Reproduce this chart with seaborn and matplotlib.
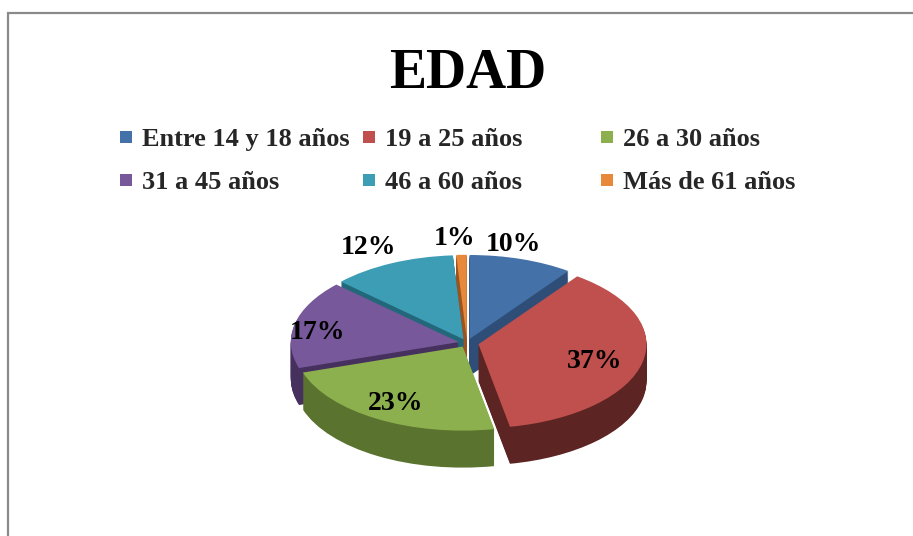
import matplotlib.pyplot as plt
import seaborn as sns
from matplotlib.lines import Line2D
from matplotlib.patches import Rectangle
import numpy as np

sns.set_theme(style="white")
plt.rcParams['font.family'] = ['Liberation Serif', 'DejaVu Serif']

# data (clockwise from 12 o'clock)
categories = ["Entre 14 y 18 años", "19 a 25 años", "26 a 30 años",
              "31 a 45 años", "46 a 60 años", "Más de 61 años"]
values = [10, 37, 23, 17, 12, 1]
pct_labels = ["10%", "37%", "23%", "17%", "12%", "1%"]

top_colors = ["#4472A8", "#C0504D", "#8DB04E", "#77589A", "#3C9DB5", "#E8883A"]
side_colors = ["#2E4E78", "#5C2422", "#5A7430", "#45305E", "#23677A", "#9A5420"]
explode = [0.05, 0.07, 0.05, 0.05, 0.05, 0.05]
# label placement: radius and where along the wedge (0 = theta1, 1 = theta2)
label_r = [1.16, 0.72, 0.78, 0.85, 1.23, 1.2]
label_frac = [0.64, 0.47, 0.5, 0.58, 0.55, 1.0]

W, H = 913, 536
fig = plt.figure(figsize=(W / 100, H / 100), dpi=100)

# outer chart frame
fig.patches.append(Rectangle((8 / W, -0.1), 1.2, (H - 13) / H + 0.1,
                             transform=fig.transFigure, fill=False,
                             edgecolor="#8a8a8a", linewidth=1.6))

fig.text(468 / W, 1 - 88 / H, "EDAD", ha="center", va="baseline",
         fontsize=40, fontweight="bold", color="black")

# pie axes: 1 x-unit = 168 px, 1 y-unit = 84 px (tilted look)
cx, cy = 467, 343
rx, ry = 168, 84
ax = fig.add_axes([0, 0, 1, 1])

depth = 37 / ry
n_layers = 40
for k in range(n_layers, 0, -1):
    ax.pie(values, colors=side_colors, explode=explode, startangle=90,
           counterclock=False, center=(0, -depth * k / n_layers),
           wedgeprops=dict(linewidth=0), frame=False)
wedges, _ = ax.pie(values, colors=top_colors, explode=explode, startangle=90,
                   counterclock=False, center=(0, 0),
                   wedgeprops=dict(linewidth=0), frame=False)

for w, lab, r, f in zip(wedges, pct_labels, label_r, label_frac):
    ang = np.deg2rad(w.theta1 + f * (w.theta2 - w.theta1))
    x = w.center[0] + r * np.cos(ang)
    y = w.center[1] + r * np.sin(ang)
    ax.text(x, y, lab, ha="center", va="center", fontsize=20,
            fontweight="bold", color="black")

ax.set_aspect("auto")
ax.set_xlim(-cx / rx, (W - cx) / rx)
ax.set_ylim(-(H - cy) / ry, cy / ry)
ax.axis("off")

# legend in three columns, Excel-like even spacing
columns = [[0, 3], [1, 4], [2, 5]]
col_x = [118, 361, 599]
for idx, x0 in zip(columns, col_x):
    handles = [Line2D([], [], marker="s", linestyle="none", markersize=8,
                      markerfacecolor=top_colors[i], markeredgewidth=0)
               for i in idx]
    leg = fig.legend(handles, [categories[i] for i in idx], loc="center left",
                     bbox_to_anchor=(x0 / W, 1 - 161 / H), frameon=False,
                     borderaxespad=0, borderpad=0, handlelength=0.6,
                     handletextpad=0.3, labelspacing=0.75,
                     prop=dict(family="Liberation Serif", weight="bold", size=19))

fig.savefig("out.png", dpi=100, facecolor="white")
